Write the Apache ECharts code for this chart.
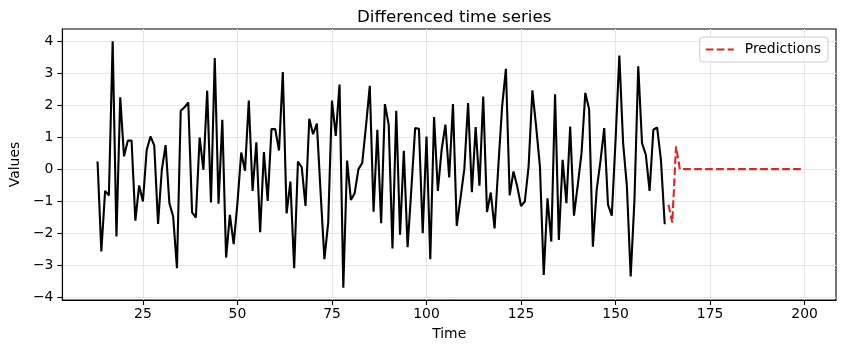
<!DOCTYPE html>
<html>
<head>
<meta charset="utf-8">
<script src="https://cdn.jsdelivr.net/npm/echarts@6/dist/echarts.min.js"></script>
<style>
  html, body { margin: 0; padding: 0; background: #fff; }
  #chart { width: 844px; height: 353px; }
</style>
</head>
<body>
<div id="chart"></div>
<script>
// differenced series, one value per time step starting at t = 13
const seriesStart = 13;
const diffValues = [
  0.24, -2.57, -0.68, -0.82, 3.99, -2.1, 2.24, 0.4, 0.89, 0.89,
  -1.61, -0.51, -1.01, 0.6, 1.02, 0.74, -1.71, -0.02, 0.75, -1.06,
  -1.48, -3.09, 1.82, 1.93, 2.08, -1.35, -1.51, 0.99, -0.02, 2.45,
  -1.04, 3.47, -1.08, 1.54, -2.76, -1.43, -2.34, -1.06, 0.52, -0.05,
  2.14, -0.68, 0.84, -1.97, 0.53, -0.99, 1.25, 1.25, 0.58, 3.03,
  -1.38, -0.39, -3.09, 0.24, 0.06, -1.15, 1.57, 1.09, 1.42, -0.75,
  -2.81, -1.67, 2.14, 1.04, 2.64, -3.7, 0.27, -0.96, -0.75, 0.0,
  0.19, 1.35, 2.6, -1.33, 1.23, -1.69, 2.03, 1.39, -2.48, 1.82,
  -2.05, 0.57, -2.44, -0.6, 1.28, 1.26, -2.0, 1.02, -2.81, 1.63,
  -0.68, 0.6, 1.39, -0.26, 2.03, -1.77, -0.9, 0.0, 2.06, -0.72,
  1.31, -0.52, 2.27, -1.34, -0.73, -1.85, 0.1, 1.96, 3.13, -0.82,
  -0.07, -0.54, -1.15, -1.01, 0.08, 2.46, 1.33, 0.08, -3.3, -0.91,
  -2.26, 2.34, -2.21, 0.29, -1.06, 1.33, -1.45, -0.5, 0.5, 2.38,
  1.88, -2.42, -0.65, 0.24, 1.28, -1.11, -1.45, 0.9, 3.55, 0.81,
  -0.54, -3.35, -0.95, 3.21, 0.81, 0.45, -0.68, 1.23, 1.3, 0.29,
  -1.72
];

// predictions start at t = 164 and run to t = 199
const predStart = 164;
const predValues = [
  -1.11, -1.67, 0.71, 0, 0, 0, 0, 0, 0, 0,
  0, 0, 0, 0, 0, 0, 0, 0, 0, 0,
  0, 0, 0, 0, 0, 0, 0, 0, 0, 0,
  0, 0, 0, 0, 0, 0
];

const xTicks = [25, 50, 75, 100, 125, 150, 175, 200];
const yTicks = [-4, -3, -2, -1, 0, 1, 2, 3, 4];

const toPairs = (start, vals) => vals.map((v, i) => [start + i, v]);
const minus = v => String(v).replace('-', '\u2212');

const font = 'DejaVu Sans';
const chart = echarts.init(document.getElementById('chart'));

chart.setOption({
  animation: false,
  backgroundColor: '#ffffff',
  title: {
    text: 'Differenced time series',
    left: 352,
    top: 4,
    textStyle: { fontFamily: font, fontSize: 16.7, fontWeight: 'normal', color: '#000' }
  },
  legend: {
    data: ['Predictions'],
    right: 16,
    top: 37,
    padding: [5.5, 7, 5.5, 5],
    itemWidth: 28,
    itemHeight: 14,
    itemStyle: { opacity: 0 },
    borderColor: '#cccccc',
    borderWidth: 1,
    borderRadius: 3,
    backgroundColor: 'rgba(255,255,255,0.8)',
    textStyle: { fontFamily: font, fontSize: 13.9, color: '#000', padding: [0, 0, 0, 6] }
  },
  grid: {
    left: 60,
    right: 8,
    top: 29,
    bottom: 53,
    show: true,
    borderColor: '#000',
    borderWidth: 1.1,
    backgroundColor: '#fff'
  },
  xAxis: {
    type: 'value',
    min: 3.7,
    max: 208.3,
    name: 'Time',
    nameLocation: 'middle',
    nameGap: 27,
    nameTextStyle: { fontFamily: font, fontSize: 13.9, color: '#000' },
    axisLine: { onZero: false, lineStyle: { color: '#000', width: 1.1 } },
    axisTick: { customValues: xTicks, length: 5, lineStyle: { color: '#000', width: 1.1 } },
    axisLabel: { customValues: xTicks, margin: 7, fontFamily: font, fontSize: 13.9, color: '#000' },
    splitLine: { show: true, lineStyle: { color: '#e7e7e7', width: 1 } }
  },
  yAxis: {
    type: 'value',
    min: -4.085,
    max: 4.375,
    name: 'Values',
    nameLocation: 'middle',
    nameGap: 36,
    nameRotate: 90,
    nameTextStyle: { fontFamily: font, fontSize: 13.9, color: '#000' },
    axisLine: { show: true, onZero: false, lineStyle: { color: '#000', width: 1.1 } },
    axisTick: { show: true, customValues: yTicks, length: 5, lineStyle: { color: '#000', width: 1.1 } },
    axisLabel: { customValues: yTicks, margin: 9, fontFamily: font, fontSize: 13.9, color: '#000', formatter: minus },
    splitLine: { show: true, lineStyle: { color: '#e7e7e7', width: 1 } }
  },
  series: [
    {
      name: 'Differenced',
      type: 'line',
      data: toPairs(seriesStart, diffValues),
      showSymbol: false,
      symbol: 'none',
      lineStyle: { color: '#000', width: 2.1 },
      itemStyle: { color: '#000' },
      z: 3
    },
    {
      name: 'Predictions',
      type: 'line',
      data: toPairs(predStart, predValues),
      showSymbol: false,
      symbol: 'none',
      lineStyle: { color: '#d62728', width: 2.1, type: [7.7, 3.3] },
      itemStyle: { color: '#d62728' },
      z: 4
    }
  ]
});
</script>
</body>
</html>
